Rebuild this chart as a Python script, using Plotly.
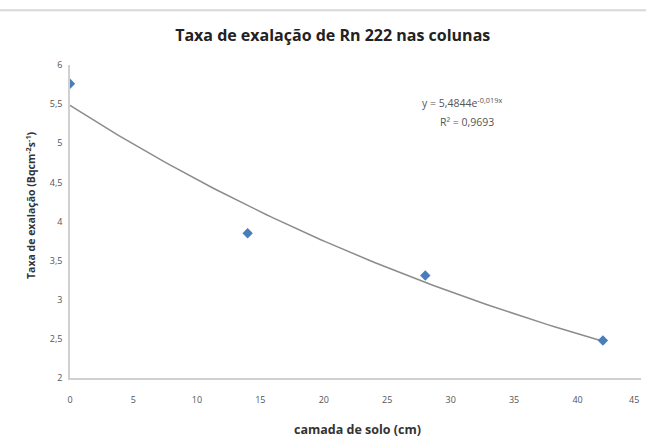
import numpy as np
import plotly.graph_objects as go

# Data
depth_cm = [0, 14, 28, 42]
exhalation_rate = [5.76, 3.85, 3.31, 2.48]
fit_a = 5.4844
fit_b = -0.019
x_ticks = [0, 5, 10, 15, 20, 25, 30, 35, 40, 45]
y_ticks = [2, 2.5, 3, 3.5, 4, 4.5, 5, 5.5, 6]
y_tick_labels = ["2", "2,5", "3", "3,5", "4", "4,5", "5", "5,5", "6"]

FONT = "Open Sans, Arial, sans-serif"

fit_x = np.linspace(0, 42, 120)
fit_y = fit_a * np.exp(fit_b * fit_x)

fig = go.Figure()
fig.add_trace(go.Scatter(x=fit_x, y=fit_y, mode="lines",
                         line=dict(color="#8c8c8c", width=1.5),
                         hoverinfo="skip", showlegend=False))
fig.add_trace(go.Scatter(x=depth_cm, y=exhalation_rate, mode="markers",
                         marker=dict(symbol="diamond", size=8, color="#4a7ebb"),
                         showlegend=False))

fig.update_layout(
    width=646, height=448,
    margin=dict(l=70, r=5, t=65, b=70, autoexpand=False),
    paper_bgcolor="white", plot_bgcolor="white",
    font=dict(family=FONT, color="#555555"),
    title=dict(text="<b>Taxa de exalação de Rn 222 nas colunas</b>",
               x=0.515, xanchor="center", y=0.922, yanchor="middle",
               yref="container", automargin=False,
               font=dict(size=16, color="#222222", family=FONT)),
    xaxis=dict(range=[0, 45], tickvals=x_ticks, showgrid=False, zeroline=False,
               showline=True, linecolor="#d0d0d0", linewidth=1.5,
               ticks="", ticklabelstandoff=12,
               tickfont=dict(size=9, color="#555555"),
               automargin=False),
    yaxis=dict(range=[2, 6], tickvals=y_ticks, ticktext=y_tick_labels,
               showgrid=False, zeroline=False,
               showline=True, linecolor="#d0d0d0", linewidth=1.5,
               ticks="", ticklabelstandoff=4,
               tickfont=dict(size=9, color="#555555"),
               automargin=False),
    shapes=[dict(type="line", xref="paper", yref="paper", x0=-0.2, x1=1.1,
                 y0=1.175, y1=1.175, line=dict(color="#d8d8d8", width=2))],
    annotations=[
        dict(text="<b>camada de solo (cm)</b>", xref="paper", yref="paper",
             x=(357 - 70) / 571, y=-0.166, showarrow=False,
             xanchor="center", yanchor="middle",
             font=dict(size=12.5, color="#333333", family=FONT)),
        dict(text="<b>Taxa de exalação (Bqcm<sup>-2</sup>s<sup>-1</sup>)</b>",
             xref="paper", yref="paper", x=-40 / 571, y=(378 - 205) / 313,
             textangle=-90, showarrow=False,
             xanchor="center", yanchor="middle",
             font=dict(size=10.5, color="#333333", family=FONT)),
        dict(text="y = 5,4844e<sup>-0,019x</sup>", xref="paper", yref="paper",
             x=0.687, y=0.879, showarrow=False, xanchor="center",
             yanchor="middle",
             font=dict(size=10.5, color="#555555", family=FONT)),
        dict(text="R² = 0,9693", xref="paper", yref="paper",
             x=0.695, y=0.818, showarrow=False, xanchor="center",
             yanchor="middle",
             font=dict(size=10.5, color="#555555", family=FONT)),
        dict(text="45", xref="x", yref="paper", x=45, y=0, yshift=-21,
             showarrow=False, xanchor="right", yanchor="middle",
             font=dict(size=9, color="#555555", family=FONT)),
    ],
)

fig.write_html("out.html", config={"displayModeBar": False},
               post_script="document.body.style.margin='0';document.body.style.overflow='hidden';")
